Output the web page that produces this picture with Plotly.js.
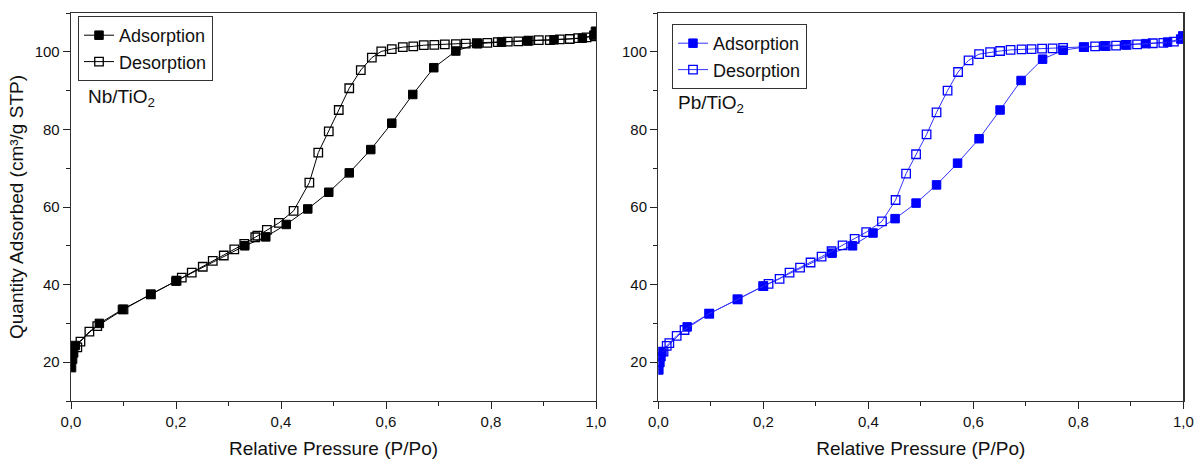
<!DOCTYPE html>
<html>
<head>
<meta charset="utf-8">
<script src="https://cdn.plot.ly/plotly-3.0.1.min.js"></script>
<style>html,body{margin:0;padding:0;background:#fff;}#chart{width:1197px;height:461px;}</style>
</head>
<body>
<div id="chart"></div>
<script>
// ---- Nb/TiO2 ----
const nbAdsX = [0.001, 0.003, 0.005, 0.008, 0.054, 0.098, 0.152, 0.200, 0.331, 0.371, 0.410, 0.451, 0.491, 0.530, 0.571, 0.611, 0.651, 0.691, 0.733, 0.775, 0.820, 0.870, 0.920, 0.974, 0.996, 0.999];
const nbAdsY = [18.6, 20.8, 22.4, 24.3, 30.0, 33.6, 37.5, 40.9, 50.0, 52.3, 55.5, 59.5, 63.8, 68.8, 74.8, 81.6, 89.0, 95.9, 100.2, 102.1, 102.5, 102.8, 103.1, 103.5, 104.3, 105.3];
const nbDesX = [0.999, 0.982, 0.966, 0.950, 0.931, 0.912, 0.891, 0.872, 0.852, 0.832, 0.813, 0.793, 0.773, 0.752, 0.733, 0.712, 0.692, 0.672, 0.652, 0.632, 0.611, 0.591, 0.573, 0.552, 0.530, 0.510, 0.491, 0.471, 0.454, 0.424, 0.396, 0.373, 0.355, 0.351, 0.330, 0.311, 0.291, 0.270, 0.251, 0.230, 0.211, 0.201, 0.152, 0.100, 0.050, 0.035, 0.018, 0.012];
const nbDesY = [104.0, 103.7, 103.5, 103.3, 103.2, 103.0, 103.0, 102.9, 102.7, 102.6, 102.5, 102.3, 102.2, 102.1, 102.0, 101.9, 101.8, 101.7, 101.4, 101.2, 100.7, 100.1, 98.5, 95.3, 90.6, 85.0, 79.5, 74.0, 66.3, 59.0, 55.9, 54.1, 52.6, 52.2, 50.5, 49.1, 47.5, 46.1, 44.6, 43.1, 41.8, 41.0, 37.5, 33.6, 29.3, 27.9, 25.3, 23.8];

// ---- Pb/TiO2 ----
const pbAdsX = [0.001, 0.003, 0.005, 0.007, 0.055, 0.097, 0.151, 0.200, 0.331, 0.370, 0.409, 0.451, 0.491, 0.530, 0.570, 0.611, 0.651, 0.691, 0.732, 0.771, 0.810, 0.850, 0.890, 0.929, 0.970, 0.995, 0.999];
const pbAdsY = [18.0, 19.9, 21.4, 22.7, 29.1, 32.5, 36.2, 39.6, 48.1, 50.0, 53.3, 57.0, 61.0, 65.7, 71.3, 77.6, 85.0, 92.6, 98.1, 100.4, 101.2, 101.5, 101.8, 102.1, 102.5, 103.3, 104.1];
const pbDesX = [0.999, 0.982, 0.962, 0.942, 0.912, 0.892, 0.872, 0.852, 0.832, 0.811, 0.771, 0.751, 0.731, 0.711, 0.692, 0.671, 0.651, 0.632, 0.611, 0.591, 0.571, 0.551, 0.530, 0.511, 0.491, 0.472, 0.452, 0.426, 0.396, 0.374, 0.351, 0.330, 0.311, 0.290, 0.270, 0.250, 0.231, 0.210, 0.200, 0.151, 0.097, 0.050, 0.035, 0.021, 0.016, 0.010];
const pbDesY = [103.4, 102.6, 102.3, 102.2, 101.9, 101.8, 101.6, 101.5, 101.4, 101.2, 101.0, 100.9, 100.8, 100.7, 100.6, 100.5, 100.2, 99.9, 99.4, 97.8, 94.8, 90.0, 84.4, 78.7, 73.6, 68.6, 61.8, 56.3, 53.5, 51.8, 50.1, 48.6, 47.2, 45.7, 44.4, 43.1, 41.5, 40.2, 39.6, 36.2, 32.5, 28.3, 26.8, 24.9, 24.2, 22.7];

const labelAds = 'Adsorption';
const labelDes = 'Desorption';

const black = '#000000';
const blue = '#0000FF';
const blueLine = '#3333FF';

const traces = [
  {x: nbAdsX, y: nbAdsY, name: labelAds, type: 'scatter', mode: 'lines+markers', xaxis: 'x', yaxis: 'y', legend: 'legend',
   line: {color: black, width: 1}, marker: {symbol: 'square', size: 8.5, color: black, line: {color: black, width: 1}}},
  {x: nbDesX, y: nbDesY, name: labelDes, type: 'scatter', mode: 'lines+markers', xaxis: 'x', yaxis: 'y', legend: 'legend',
   line: {color: black, width: 1}, marker: {symbol: 'square-open', size: 8.5, color: black, line: {color: black, width: 1.3}}},
  {x: pbAdsX, y: pbAdsY, name: labelAds, type: 'scatter', mode: 'lines+markers', xaxis: 'x2', yaxis: 'y2', legend: 'legend2',
   line: {color: blueLine, width: 1}, marker: {symbol: 'square', size: 8.5, color: blue, line: {color: blue, width: 1}}},
  {x: pbDesX, y: pbDesY, name: labelDes, type: 'scatter', mode: 'lines+markers', xaxis: 'x2', yaxis: 'y2', legend: 'legend2',
   line: {color: blueLine, width: 1}, marker: {symbol: 'square-open', size: 8.5, color: blue, line: {color: blue, width: 1.3}}}
];

const W = 1197, H = 461;
const yDom = [1 - 401 / H, 1 - 13 / H];
const fontFam = 'Liberation Sans, Arial, sans-serif';

function xax(domain) {
  return {
    domain: domain, range: [0, 1], dtick: 0.2, tick0: 0, tickformat: '.1f',
    ticks: 'outside', ticklen: 7, tickwidth: 1, tickcolor: '#222',
    minor: {dtick: 0.1, ticks: 'outside', ticklen: 4, tickwidth: 1, tickcolor: '#222'},
    showline: true, mirror: true, linecolor: '#333', linewidth: 1.3,
    showgrid: false, zeroline: false,
    tickfont: {family: fontFam, size: 15, color: '#111'},
    title: {text: 'Relative Pressure (P/Po)', font: {family: fontFam, size: 19, color: '#111'}, standoff: 12}
  };
}
function yax(anchor, titleText) {
  const a = {
    domain: yDom, range: [10, 110], dtick: 20, tick0: 0,
    ticks: 'outside', ticklen: 7, tickwidth: 1, tickcolor: '#222',
    minor: {dtick: 10, ticks: 'outside', ticklen: 4, tickwidth: 1, tickcolor: '#222'},
    showline: true, mirror: true, linecolor: '#333', linewidth: 1.3,
    showgrid: false, zeroline: false, anchor: anchor,
    tickfont: {family: fontFam, size: 15, color: '#111'}
  };
  if (titleText) a.title = {text: titleText, font: {family: fontFam, size: 19, color: '#111'}, standoff: 6};
  return a;
}

const legendBase = {
  xref: 'paper', yref: 'paper', xanchor: 'left', yanchor: 'top',
  bgcolor: 'rgba(255,255,255,1)', bordercolor: '#333', borderwidth: 1,
  font: {family: fontFam, size: 18, color: '#111'}, tracegroupgap: 0, itemwidth: 30
};

const layout = {
  width: W, height: H,
  margin: {l: 0, r: 0, t: 0, b: 0},
  paper_bgcolor: '#fff', plot_bgcolor: '#fff',
  separators: ',.',
  showlegend: true,
  font: {family: fontFam, color: '#111'},
  xaxis: Object.assign(xax([71 / W, 596 / W]), {anchor: 'y'}),
  yaxis: yax('x', 'Quantity Adsorbed (cm³/g STP)'),
  xaxis2: Object.assign(xax([658.3 / W, 1183.3 / W]), {anchor: 'y2'}),
  yaxis2: yax('x2', null),
  legend: Object.assign({}, legendBase, {x: 78 / W, y: 1 - 16 / H}),
  legend2: Object.assign({}, legendBase, {x: 672 / W, y: 1 - 24 / H}),
  annotations: [
    {text: 'Nb/TiO<sub>2</sub>', xref: 'paper', yref: 'paper', x: 86 / W, y: 1 - 98 / H, xanchor: 'left', yanchor: 'middle',
     showarrow: false, font: {family: fontFam, size: 19, color: '#111'}},
    {text: 'Pb/TiO<sub>2</sub>', xref: 'paper', yref: 'paper', x: 676 / W, y: 1 - 104 / H, xanchor: 'left', yanchor: 'middle',
     showarrow: false, font: {family: fontFam, size: 19, color: '#111'}}
  ]
};

Plotly.newPlot('chart', traces, layout, {staticPlot: true, displayModeBar: false});
</script>
</body>
</html>
